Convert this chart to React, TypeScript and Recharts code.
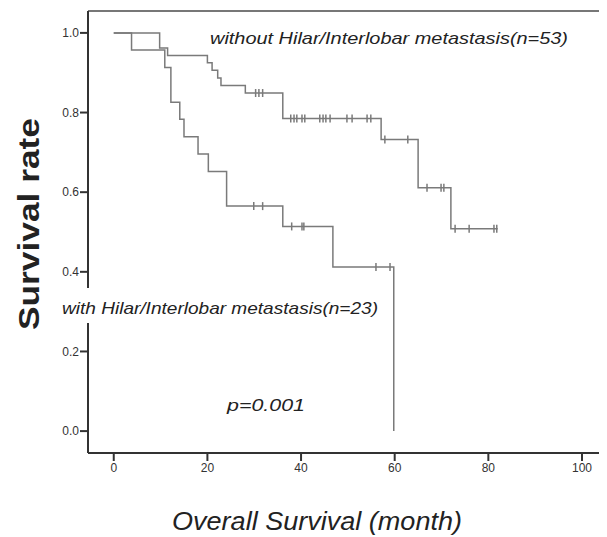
import { ComposedChart, Line, Scatter, XAxis, YAxis, ReferenceLine } from 'recharts';

// Kaplan-Meier steps
const upperTimes = [0, 9.8, 11.5, 20.0, 21.0, 22.2, 22.9, 28.1, 36.1, 57.1, 65.0, 72.0, 82.0];
const upperSurv = [1.0, 0.962, 0.943, 0.925, 0.906, 0.887, 0.868, 0.849, 0.785, 0.732, 0.611, 0.508, 0.508];
const upperCensored = [30.3, 31.0, 31.8, 37.8, 38.5, 39.1, 40.2, 40.8, 44.0, 44.7, 45.3, 46.2, 49.8, 50.9, 54.1, 54.9, 57.9, 62.8, 66.9, 69.9, 70.5, 72.9, 75.9, 81.2, 81.8];

const lowerTimes = [0, 3.8, 10.9, 12.2, 14.1, 15.0, 18.0, 20.2, 24.1, 36.1, 46.8, 59.8];
const lowerSurv = [1.0, 0.957, 0.913, 0.826, 0.783, 0.739, 0.696, 0.652, 0.565, 0.514, 0.412, 0.0];
const lowerCensored = [29.9, 31.8, 38.0, 40.2, 40.6, 56.0, 59.0];

const xTicks = [0, 20, 40, 60, 80, 100];
const yTicks = [0, 0.2, 0.4, 0.6, 0.8, 1.0];

const X_DOMAIN: [number, number] = [-5.5, 104.7];
const Y_DOMAIN: [number, number] = [-0.055, 1.055];

const LINE = '#7a7a7a';
const AXIS = '#333';
const FONT = '"Liberation Sans", Arial, sans-serif';

function toSteps(times: number[], surv: number[]) {
    return times.map((t, i) => ({ t, s: surv[i] }));
}

// survival level in effect at time t
function survAt(times: number[], surv: number[], t: number) {
    let s = surv[0];
    for (let i = 0; i < times.length; i++) {
        if (times[i] <= t) s = surv[i];
    }
    return s;
}

function toCensor(times: number[], surv: number[], cens: number[]) {
    return cens.map((t) => ({ t, s: survAt(times, surv, t) }));
}

const upperData = toSteps(upperTimes, upperSurv);
const lowerData = toSteps(lowerTimes, lowerSurv);
const upperCens = toCensor(upperTimes, upperSurv, upperCensored);
const lowerCens = toCensor(lowerTimes, lowerSurv, lowerCensored);

function CensorTick(props: any) {
    const { cx, cy } = props;
    return <line x1={cx} y1={cy - 4} x2={cx} y2={cy + 4} stroke={LINE} strokeWidth={1.5} />;
}

export default function App() {
    return (
        <div style={{ position: 'relative', width: 599, height: 529, fontFamily: FONT }}>
            <ComposedChart
                width={599}
                height={529}
                margin={{ top: 3, right: 3, left: 0, bottom: 0 }}
            >
                <XAxis
                    type="number"
                    dataKey="t"
                    domain={X_DOMAIN}
                    ticks={xTicks}
                    allowDataOverflow
                    height={84}
                    tickSize={8}
                    tickMargin={2}
                    stroke={AXIS}
                    strokeWidth={2}
                    tick={{ fill: '#333', fontSize: 12, fontFamily: FONT }}
                />
                <YAxis
                    type="number"
                    dataKey="s"
                    domain={Y_DOMAIN}
                    ticks={yTicks}
                    allowDataOverflow
                    width={80}
                    tickSize={8}
                    tickMargin={1}
                    stroke={AXIS}
                    strokeWidth={2}
                    tickFormatter={(v: number) => v.toFixed(1)}
                    tick={{ fill: '#333', fontSize: 12, fontFamily: FONT }}
                />
                <ReferenceLine y={Y_DOMAIN[1]} stroke="#777" strokeWidth={2} />
                <ReferenceLine x={X_DOMAIN[1]} stroke="#999" strokeWidth={1} />
                <Line data={lowerData} dataKey="s" type="stepAfter" stroke={LINE} strokeWidth={1.5} dot={false} isAnimationActive={false} />
                <Line data={upperData} dataKey="s" type="stepAfter" stroke={LINE} strokeWidth={1.5} dot={false} isAnimationActive={false} />
                <Scatter data={lowerCens} dataKey="s" shape={CensorTick} isAnimationActive={false} />
                <Scatter data={upperCens} dataKey="s" shape={CensorTick} isAnimationActive={false} />
            </ComposedChart>
            <svg width={599} height={529} style={{ position: 'absolute', left: 0, top: 0, pointerEvents: 'none' }}>
                <g fontFamily={FONT} fill="#222">
                    <text x={202} y={36} fontSize={17} fontStyle="italic" textLength={358} lengthAdjust="spacingAndGlyphs">
                        without Hilar/Interlobar metastasis(n=53)
                    </text>
                    <rect x={50} y={280} width={325} height={35} fill="#fff" />
                    <text x={54} y={306} fontSize={17} fontStyle="italic" textLength={316} lengthAdjust="spacingAndGlyphs">
                        with Hilar/Interlobar metastasis(n=23)
                    </text>
                    <text x={219} y={403} fontSize={17} fontStyle="italic" textLength={78} lengthAdjust="spacingAndGlyphs">
                        p=0.001
                    </text>
                    <text x={20} y={216} fontSize={30} fontWeight="bold" textAnchor="middle" dominantBaseline="central" transform="rotate(-90 20 216)" textLength={212} lengthAdjust="spacingAndGlyphs">
                        Survival rate
                    </text>
                    <text x={309} y={522} fontSize={25} fontStyle="italic" textAnchor="middle" textLength={290} lengthAdjust="spacingAndGlyphs">
                        Overall Survival (month)
                    </text>
                </g>
            </svg>
        </div>
    );
}
